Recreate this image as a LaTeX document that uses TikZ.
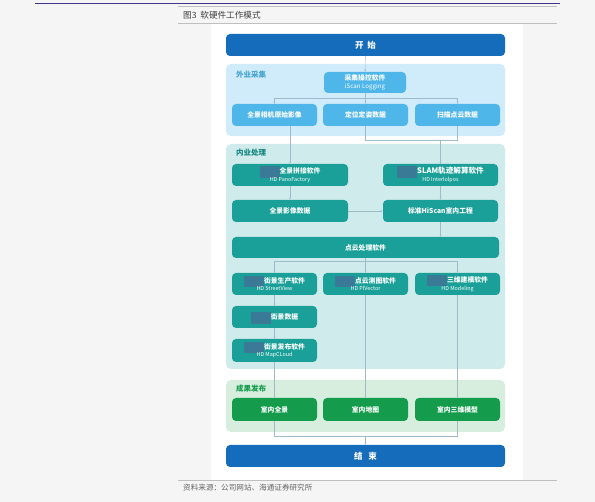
\documentclass[tikz,border=0pt]{standalone}
\usepackage{fontspec}
\setmainfont{Noto Sans CJK SC}
\usetikzlibrary{arrows.meta}
\definecolor{startblue}{RGB}{21,108,186}
\definecolor{fieldblue}{RGB}{78,182,232}
\definecolor{fieldbg}{RGB}{208,235,249}
\definecolor{procteal}{RGB}{26,160,152}
\definecolor{procbg}{RGB}{207,235,235}
\definecolor{outgreen}{RGB}{20,156,76}
\definecolor{outbg}{RGB}{215,238,223}
\definecolor{linkgray}{RGB}{160,186,202}
\definecolor{maskblue}{RGB}{58,122,150}
\definecolor{rulenavy}{RGB}{62,52,140}
\tikzset{
    box/.style={rounded corners=4pt, text=white, align=center, inner sep=0pt,
        font=\fontsize{6.8}{9}\selectfont\bfseries, minimum width=85pt, minimum height=22pt}, % 通用方框
    endbox/.style={box, fill=startblue, minimum width=279pt, font=\fontsize{8.5}{9}\selectfont\bfseries}, % 开始/结束
    fieldbox/.style={box, fill=fieldblue}, % 外业采集
    procbox/.style={box, fill=procteal}, % 内业处理
    outbox/.style={box, fill=outgreen, minimum height=23pt}, % 成果发布
    link/.style={draw=linkgray, line width=0.4pt}, % 连线
    arr/.style={link, -{Stealth[length=2.2pt, width=1.8pt]}}, % 箭头
    panel label/.style={anchor=west, inner sep=0pt, font=\fontsize{7.5}{8}\selectfont\bfseries}
}
\newcommand{\en}[1]{\\[-1.5pt]{\fontsize{5.4}{6}\selectfont\mdseries #1}}
\newcommand{\maskbar}{\smash{\textcolor{maskblue}{\rule[-4pt]{20pt}{11.5pt}}}}

\begin{document}
\begin{tikzpicture}[x=1pt, y=-1pt]
    \useasboundingbox (0,0) rectangle (595,502);
    \fill[black!4] (0,0) rectangle (595,502);
    \draw[rulenavy, line width=0.9pt] (35,3) -- (560,3);
    \draw[black!25, line width=0.6pt] (178,6) -- (557,6);
    \node[anchor=west, inner sep=0pt, font=\fontsize{8.6}{9}\selectfont, text=black!75] (caption) at (183,15) {图3\ \ 软硬件工作模式};
    \fill[white] (211,23) rectangle (523,480);
    \draw[black!25, line width=0.8pt] (178,23) -- (557,23);
    \draw[black!25, line width=0.8pt] (178,480) -- (557,480);
    \node[anchor=west, inner sep=0pt, font=\fontsize{7.6}{8}\selectfont, text=black!60] (source) at (183,487.5) {资料来源：公司网站、海通证券研究所};

    % 分区底色
    \fill[fieldbg, rounded corners=5pt] (226,64) rectangle (505,136);
    \fill[procbg, rounded corners=5pt] (226,144) rectangle (505,369);
    \fill[outbg, rounded corners=5pt] (226,380) rectangle (505,432);
    \node[panel label, text=fieldblue!90!black] (fieldlbl) at (236,75) {外业采集};
    \node[panel label, text=procteal!85!black] (proclbl) at (236,153) {内业处理};
    \node[panel label, text=outgreen] (outlbl) at (236,389) {成果发布};

    \node[endbox] (start) at (365.5,45) {开\ \ 始};
    \node[fieldbox, minimum width=82pt, minimum height=21pt] (ctrl) at (365,82.5) {采集操控软件\\[-1.5pt]{\fontsize{6.2}{7}\selectfont\mdseries iScan Logging}};
    \node[fieldbox] (cam) at (274.5,115) {全景相机原始影像};
    \node[fieldbox] (pose) at (365.5,115) {定位定姿数据};
    \node[fieldbox] (scan) at (457.5,115) {扫描点云数据};

    \node[procbox, minimum width=116pt] (pano) at (290,175) {\maskbar 全景拼接软件\en{HD PanoFactory}};
    \node[procbox, minimum width=115pt] (slam) at (440.5,175) {\maskbar {\fontsize{7.6}{9}\selectfont SLAM轨迹解算软件}\en{HD Interlolpos}};
    \node[procbox, minimum width=116pt] (panodata) at (290,211) {全景影像数据};
    \node[procbox, minimum width=115pt] (hiscan) at (440.5,211) {标准HiScan室内工程};
    \node[procbox, minimum width=267pt, minimum height=21pt] (cloud) at (365.5,247.5) {点云处理软件};
    \node[procbox] (street) at (274.5,284) {\maskbar 街景生产软件\en{HD StreetView}};
    \node[procbox] (mapping) at (365.5,284) {\maskbar 点云测图软件\en{HD PlVector}};
    \node[procbox] (model) at (457.5,284) {\maskbar 三维建模软件\en{HD Modeling}};
    \node[procbox] (sdata) at (274.5,317) {\maskbar 街景数据};
    \node[procbox, minimum height=23pt] (spub) at (274.5,350.5) {\maskbar 街景发布软件\en{HD MapCLoud}};

    \node[outbox] (opano) at (274.5,409.5) {室内全景};
    \node[outbox] (omap) at (365.5,409.5) {室内地图};
    \node[outbox] (omodel) at (457.5,409.5) {室内三维模型};
    \node[endbox] (end) at (365.5,456) {结\ \ \ 束};

    % 连线
    \draw[arr] (start) -- (ctrl);
    \draw[link] (ctrl.south) -- ++(0,5) coordinate (bus1);
    \foreach \n in {cam, pose, scan} \draw[arr] (bus1) -| (\n.north);
    \draw[arr] (cam.south -| pano.north) -- (pano.north);
    \draw[link] (pose.south) -- ++(0,14) coordinate (bus2) -| (scan.south);
    \draw[arr] (bus2 -| slam.north) -- (slam.north);
    \draw[arr] (pano) -- (panodata);
    \draw[arr] (slam) -- (hiscan);
    \draw[arr] (panodata) -- (hiscan);
    \draw[arr] (hiscan.south) -- (hiscan.south |- cloud.north);
    \draw[link] (cloud.south) -- ++(0,3.5) coordinate (bus3);
    \foreach \n in {street, mapping, model} \draw[arr] (bus3) -| (\n.north);
    \draw[arr] (street) -- (sdata);
    \draw[arr] (sdata) -- (spub);
    \draw[arr] (spub) -- (opano);
    \draw[arr] (mapping) -- (omap);
    \draw[arr] (model) -- (omodel);
    \draw[link] (opano.south) -- ++(0,15) coordinate (bus4) -| (omodel.south);
    \draw[arr] (bus4 -| end.north) -- (end.north);
\end{tikzpicture}
\end{document}
